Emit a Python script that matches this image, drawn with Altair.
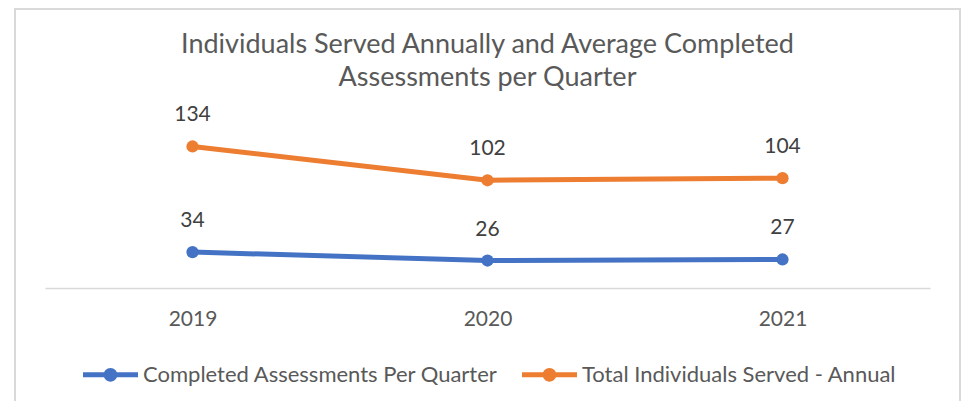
import altair as alt
import pandas as pd

years = ["2019", "2020", "2021"]
series_names = ["Completed Assessments Per Quarter", "Total Individuals Served - Annual"]
completed = [34, 26, 27]
total = [134, 102, 104]
colors = ["#4472C4", "#ED7D31"]

rows = []
for name, vals in zip(series_names, [completed, total]):
    for y, v in zip(years, vals):
        rows.append({"Year": y, "Series": name, "Value": v})
df = pd.DataFrame(rows)

FONT = "Lato"

legend_path = ("M-1,-0.09L1,-0.09L1,0.09L-1,0.09Z "
               "M-0.25,0A0.25,0.25 0 1,1 0.25,0A0.25,0.25 0 1,1 -0.25,0Z")

x = alt.X("Year:N", scale=alt.Scale(type="point", padding=0.5),
          axis=alt.Axis(title=None, labelAngle=0, ticks=False, grid=False,
                        domainColor="#d9d9d9", domainWidth=1.5,
                        labelFont=FONT, labelFontSize=21, labelColor="#595959",
                        labelPadding=20))
y = alt.Y("Value:Q", scale=alt.Scale(domain=[0, 160], nice=False),
          axis=None)
color = alt.Color("Series:N", scale=alt.Scale(domain=series_names, range=colors),
                  legend=alt.Legend(title=None, orient="none", legendX=38, legendY=228,
                                    direction="horizontal", symbolType=legend_path,
                                    symbolSize=3025, symbolStrokeWidth=0,
                                    labelFont=FONT, labelFontSize=22, labelLimit=0,
                                    labelColor="#595959", labelOffset=5,
                                    columnPadding=24, symbolOpacity=1))

base = alt.Chart(df)
lines = base.mark_line(strokeWidth=5).encode(x=x, y=y, color=color)
points = base.mark_point(filled=True, size=150, opacity=1).encode(x=x, y=y, color=color)
labels = base.mark_text(dy=-31, font=FONT, fontSize=21, color="#404040").encode(
    x=x, y=y, text="Value:Q")

border = alt.Chart(pd.DataFrame({"b": [0]})).mark_rect(
    fill=None, stroke="#d9d9d9", strokeWidth=2).encode(
    x=alt.value(-30), x2=alt.value(915), y=alt.value(-110), y2=alt.value(320))

chart = alt.layer(border, lines, points, labels).properties(
    width=885, height=169,
    autosize=alt.AutoSizeParams(type="none"),
    padding={"left": 37, "top": 111, "right": 31, "bottom": 113},
    title=alt.TitleParams(
        text=["Individuals Served Annually and Average Completed",
              "Assessments per Quarter"],
        font=FONT, fontSize=27, fontWeight="normal", color="#595959",
        anchor="middle", lineHeight=33, offset=-84),
).configure_view(stroke=None)

chart.save("out.html", embed_options={"renderer": "svg", "actions": False})
